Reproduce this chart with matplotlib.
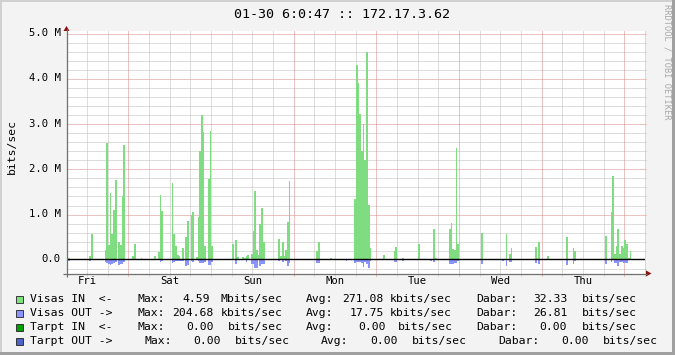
import matplotlib
matplotlib.use('Agg')
import matplotlib.pyplot as plt
import numpy as np
from matplotlib.patches import Rectangle, Polygon

W, H, DPI = 675, 355, 100

title = "01-30 6:0:47 :: 172.17.3.62"
day_labels = ["Fri", "Sat", "Sun", "Mon", "Tue", "Wed", "Thu"]
ytick_vals = [0, 1, 2, 3, 4, 5]
ytick_labels = ["0.0", "1.0 M", "2.0 M", "3.0 M", "4.0 M", "5.0 M"]
ylabel = "bits/sec"
watermark = "RRDTOOL / TOBI OETIKER"

# 30-minute samples (bin index from the left edge of the week window), Mbit/s
in_bins = [0, 1, 13, 14, 22, 23, 24, 25, 26, 27, 28, 30, 31, 32, 33, 38, 39, 43,
           51, 53, 54, 55, 61, 62, 63, 64, 65, 67, 69, 70, 72, 73, 75, 76, 77, 78,
           79, 80, 82, 83, 84, 96, 98, 99, 102, 103, 104, 105, 107, 108, 109, 110,
           111, 112, 113, 114, 123, 124, 125, 126, 127, 128, 129, 145, 146, 153,
           167, 168, 169, 170, 171, 172, 173, 174, 175, 176, 184, 190, 191, 195,
           204, 213, 214, 222, 223, 224, 225, 226, 227, 241, 255, 257, 258, 272,
           273, 274, 279, 290, 294, 295, 313, 316, 317, 318, 319, 320, 321, 322,
           323, 324, 325, 326, 327]
in_vals = [0.13, 0.03, 0.07, 0.57, 0.20, 2.58, 0.32, 1.47, 0.56, 1.09, 1.75, 0.38,
           0.32, 1.39, 2.53, 0.07, 0.34, 0.03, 0.07, 0.16, 1.42, 1.07, 1.69, 0.56,
           0.29, 0.10, 0.08, 0.26, 0.50, 0.85, 0.98, 1.04, 0.05, 0.94, 2.40, 3.19,
           2.82, 0.29, 1.78, 2.84, 0.29, 0.34, 0.43, 0.05, 0.05, 0.03, 0.07, 0.10,
           0.12, 0.63, 1.51, 0.20, 0.10, 0.78, 1.13, 0.38, 0.45, 0.07, 0.38, 0.07,
           0.20, 0.82, 1.73, 0.18, 0.38, 0.02, 1.33, 4.30, 3.90, 3.21, 2.40, 2.99,
           2.20, 4.59, 1.20, 0.24, 0.09, 0.18, 0.27, 0.03, 0.33, 0.66, 0.03, 0.66,
           0.80, 0.23, 0.20, 2.46, 0.33, 0.58, 0.56, 0.12, 0.25, 0.28, 0.02, 0.38,
           0.07, 0.50, 0.25, 0.18, 0.51, 1.04, 1.84, 0.11, 0.29, 0.66, 0.11, 0.29,
           0.25, 0.43, 0.33, 0.02, 0.18]
out_bins = [0, 1, 13, 22, 23, 24, 25, 26, 27, 28, 30, 31, 32, 33, 51, 54, 55, 61,
            62, 63, 64, 65, 66, 67, 69, 70, 72, 73, 76, 77, 78, 79, 80, 82, 83, 84,
            98, 104, 107, 108, 109, 110, 112, 113, 114, 123, 125, 127, 128, 129,
            145, 146, 162, 167, 168, 169, 170, 171, 172, 173, 174, 175, 176, 190,
            191, 195, 211, 213, 222, 223, 224, 225, 226, 227, 241, 253, 255, 257,
            258, 272, 274, 290, 294, 295, 313, 316, 318, 319, 320, 321, 322, 323,
            324, 325, 327]
out_vals = [0.04, 0.04, 0.04, 0.06, 0.08, 0.10, 0.12, 0.10, 0.09, 0.07, 0.12, 0.10,
            0.10, 0.07, 0.02, 0.06, 0.03, 0.08, 0.06, 0.03, 0.03, 0.03, 0.03, 0.03,
            0.15, 0.13, 0.03, 0.06, 0.03, 0.08, 0.08, 0.08, 0.07, 0.12, 0.12, 0.06,
            0.10, 0.06, 0.10, 0.10, 0.20, 0.20, 0.15, 0.10, 0.10, 0.04, 0.06, 0.03,
            0.15, 0.08, 0.09, 0.09, 0.04, 0.09, 0.07, 0.07, 0.07, 0.09, 0.18, 0.07,
            0.11, 0.20, 0.04, 0.07, 0.07, 0.04, 0.04, 0.07, 0.11, 0.11, 0.11, 0.09,
            0.09, 0.04, 0.10, 0.04, 0.15, 0.07, 0.07, 0.09, 0.11, 0.13, 0.11, 0.04,
            0.11, 0.07, 0.09, 0.09, 0.15, 0.07, 0.07, 0.08, 0.08, 0.09, 0.02]

legend_names = ["Visas IN  <-", "Visas OUT ->", "Tarpt IN  <-", "Tarpt OUT ->"]
legend_max = ["4.59", "204.68", "0.00", "0.00"]
legend_max_unit = ["Mbits/sec", "kbits/sec", "bits/sec", "bits/sec"]
legend_avg = ["271.08", "17.75", "0.00", "0.00"]
legend_avg_unit = ["kbits/sec", "kbits/sec", "bits/sec", "bits/sec"]
legend_cur = ["32.33", "26.81", "0.00", "0.00"]
legend_cur_unit = ["bits/sec", "bits/sec", "bits/sec", "bits/sec"]
legend_colors = ["#80E080", "#8A94FF", "#00A000", "#4A64C8"]

GREEN = "#80DC80"
BLUE = "#8A94FF"
MONO = "DejaVu Sans Mono"

# geometry (pixels)
X0, X1 = 66.7, 645.0
Y_TOP, Y_BOT = 31.0, 273.7
Y_MIN, Y_MAX = -0.319, 5.05
HOURS = 168.0
FIRST_MIDNIGHT = 17.8   # hours from left edge

def hx(h):
    return X0 + h / HOURS * (X1 - X0)

def vy(v):
    return Y_BOT - (v - Y_MIN) / (Y_MAX - Y_MIN) * (Y_BOT - Y_TOP)

fig = plt.figure(figsize=(W / DPI, H / DPI), dpi=DPI, facecolor="#F3F3F3")

# --- background canvas and dotted grid (pixel coordinates) ---
gax = fig.add_axes([0, 0, 1, 1], facecolor="none")
gax.set_xlim(0, W)
gax.set_ylim(H, 0)
gax.axis("off")
gax.add_patch(Rectangle((X0, Y_TOP), X1 - X0, Y_BOT - Y_TOP, facecolor="white",
                        lw=0))
GRID_MINOR = "#BDBDBD"
GRID_MAJOR = "#D88888"
dot = (0, (1, 1))
hvals = np.round(np.arange(-0.2, 5.001, 0.2), 3)
for v in hvals:
    if abs(v) < 1e-9:
        continue
    major = abs(v - round(v)) < 1e-6
    r = np.floor(vy(v)) + 0.5
    gax.plot([67, 646], [r, r], color=GRID_MAJOR if major else GRID_MINOR,
             lw=0.72, ls=dot, solid_capstyle="butt", dash_capstyle="butt")
vgrid = np.arange(FIRST_MIDNIGHT - 12, HOURS, 6.0)
for h in vgrid:
    major = abs(((h - FIRST_MIDNIGHT) % 24)) < 1e-6
    c = np.floor(hx(h)) + 0.5
    gax.plot([c, c], [31, 277], color=GRID_MAJOR if major else GRID_MINOR,
             lw=0.72, ls=dot, dash_capstyle="butt")

# --- data axes ---
ax = fig.add_axes([X0 / W, 1 - Y_BOT / H, (X1 - X0) / W, (Y_BOT - Y_TOP) / H],
                  facecolor="none")
ax.set_xlim(0, HOURS)
ax.set_ylim(Y_MIN, Y_MAX)
for s in ax.spines.values():
    s.set_visible(False)
ax.set_xticks([])
ax.set_yticks([])
ax.bar(np.array(in_bins) * 0.5, in_vals, width=0.5, align="edge", color=GREEN,
       linewidth=0, antialiased=False, zorder=2)
ax.bar(np.array(out_bins) * 0.5, -np.array(out_vals), width=0.5, align="edge",
       color=BLUE, linewidth=0, antialiased=False, zorder=2)
ax.axhline(0, color="black", lw=1.0, zorder=3)

# --- overlay decorations ---
ov = fig.add_axes([0, 0, 1, 1], facecolor="none")
ov.set_xlim(0, W)
ov.set_ylim(H, 0)
ov.axis("off")

ov.add_patch(Rectangle((0, 0), W, 2, color="#D0D0D0", lw=0))
ov.add_patch(Rectangle((0, 0), 2, H, color="#D0D0D0", lw=0))
ov.add_patch(Rectangle((0, H - 3), W, 3, color="#A0A0A0", lw=0))
ov.add_patch(Rectangle((W - 3, 0), 3, H, color="#A0A0A0", lw=0))

AXIS_C = "#707070"
ARROW_C = "#8B1010"
ov.plot([66.5, 66.5], [Y_BOT + 3, 29], color=AXIS_C, lw=0.9, solid_capstyle="butt")
ov.plot([63, 647], [273.5, 273.5], color=AXIS_C, lw=0.9, solid_capstyle="butt")
ov.add_patch(Polygon([(63.5, 31), (69.5, 31), (66.5, 26)], closed=True,
                     color=ARROW_C, lw=0))
ov.add_patch(Polygon([(646, 270.5), (646, 276.5), (651.5, 273.5)],
                     closed=True, color=ARROW_C, lw=0))

# tick labels
for v, lab in zip(ytick_vals, ytick_labels):
    ov.text(61, vy(v), lab, ha="right", va="center", family=MONO, fontsize=7.6,
            color="black")
for i, lab in enumerate(day_labels):
    h = FIRST_MIDNIGHT - 12 + 24 * i
    ov.text(hx(h) + 0.5, 281.5, lab, ha="center", va="center", family=MONO,
            fontsize=7.6, color="black")

ov.text(12, 147, ylabel, rotation=90, ha="center", va="center", family=MONO,
        fontsize=8.2, color="black")
ov.text(337.5 + 4, 14.5, title, ha="center", va="center", family=MONO,
        fontsize=9.6, color="black")
ov.text(667, 4.5, watermark, rotation=270, ha="center", va="top", family=MONO,
        fontsize=6.2, color="#A8A8A8")

# legend
row_y = [299.3, 313.3, 327.3, 341.0]
max_lab_x = [137.7, 137.7, 137.7, 145.0]
max_x = [182.7, 172.7, 186.7, 193.3]
max_unit_x = [221.0, 221.0, 228.3, 235.0]
avg_lab_x = [306.7, 306.7, 306.7, 321.7]
avg_x = [342.7, 350.0, 358.3, 370.7]
avg_unit_x = [390.7, 390.7, 398.3, 412.7]
cur_lab_x = [476.7, 476.7, 476.7, 498.3]
cur_x = [533.3, 533.3, 540.0, 561.7]
cur_unit_x = [582.7, 582.7, 582.7, 603.3]
LFS = 8.2
for i in range(4):
    y = row_y[i]
    ov.add_patch(Rectangle((16, y - 3.5), 7, 7, facecolor=legend_colors[i],
                           edgecolor="#202020", lw=0.6))
    pieces = [(30.5, legend_names[i]), (max_lab_x[i], "Max:"), (max_x[i], legend_max[i]),
              (max_unit_x[i], legend_max_unit[i]), (avg_lab_x[i], "Avg:"),
              (avg_x[i], legend_avg[i]), (avg_unit_x[i], legend_avg_unit[i]),
              (cur_lab_x[i], "Dabar:"), (cur_x[i], legend_cur[i]),
              (cur_unit_x[i], legend_cur_unit[i])]
    for x, s in pieces:
        ov.text(x - 0.5, y, s, ha="left", va="center", family=MONO, fontsize=LFS,
                color="black")

fig.savefig("out.png", dpi=DPI, facecolor=fig.get_facecolor())
